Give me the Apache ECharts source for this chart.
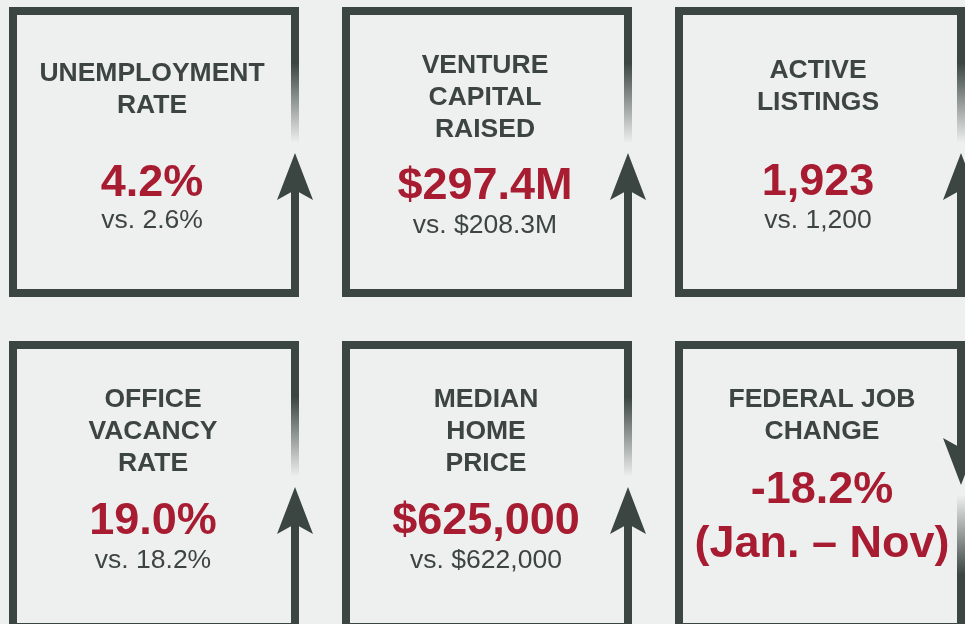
<!DOCTYPE html>
<html>
<head>
<meta charset="utf-8">
<script src="https://cdn.jsdelivr.net/npm/echarts@6/dist/echarts.min.js"></script>
<style>
  html, body { margin: 0; padding: 0; background: #eef0ef; }
  #chart-container { width: 965px; height: 624px; }
</style>
</head>
<body>
<div id="chart-container"></div>
<script>
// KPI data
const titles = [
  ['UNEMPLOYMENT', 'RATE'],
  ['VENTURE', 'CAPITAL', 'RAISED'],
  ['ACTIVE', 'LISTINGS'],
  ['OFFICE', 'VACANCY', 'RATE'],
  ['MEDIAN', 'HOME', 'PRICE'],
  ['FEDERAL JOB', 'CHANGE'],
];
const currentValues = ['4.2%', '$297.4M', '1,923', '19.0%', '$625,000', '-18.2%'];
const compareLabels = ['vs. 2.6%', 'vs. $208.3M', 'vs. 1,200', 'vs. 18.2%', 'vs. $622,000', '(Jan. – Nov)'];
const compareIsPeriod = [false, false, false, false, false, true];
const directions = ['up', 'up', 'up', 'up', 'up', 'down'];

// layout: [text centre x, first title line, value line, compare line] from the card corner
const textRows = [
  [143, 67, 177, 214],
  [143, 59, 180, 219],
  [143, 64, 176, 214],
  [144, 59, 181, 220],
  [144, 59, 181, 220],
  [147, 59, 150, 204],
];

const DARK = '#3b4541';
const RED = '#a81c32';
const TEXT = '#3d4542';
const FONT = '"Liberation Sans", Arial, sans-serif';
const CARD = 290;
const BORDER = 8;

const dom = document.getElementById('chart-container');
const myChart = echarts.init(dom, null, { renderer: 'canvas' });

const rect = (x, y, width, height, fill) => ({
  type: 'rect',
  shape: { x, y, width, height },
  style: { fill },
});

const fade = (solidOnTop) => ({
  type: 'linear', x: 0, y: 0, x2: 0, y2: 1,
  colorStops: solidOnTop
    ? [{ offset: 0, color: DARK }, { offset: 1, color: 'rgba(59,69,65,0)' }]
    : [{ offset: 0, color: 'rgba(59,69,65,0)' }, { offset: 1, color: DARK }],
});

const label = (text, x, y, size, weight, fill) => ({
  type: 'text',
  style: {
    text, x, y, fill,
    font: `${weight} ${size}px ${FONT}`,
    align: 'center',
    verticalAlign: 'middle',
  },
});

const renderCard = (params, api) => {
  const i = params.dataIndex;
  const x0 = 9 + (i % 3) * 333;
  const y0 = 7 + Math.floor(i / 3) * 334;
  const y1 = y0 + CARD;
  const rx = x0 + CARD - BORDER;
  const ax = x0 + CARD - BORDER / 2;
  const rows = textRows[i];
  const mid = x0 + rows[0];

  const children = [
    rect(x0, y0, CARD, BORDER, DARK),
    rect(x0, y0, BORDER, CARD, DARK),
    rect(x0, y1 - BORDER, CARD, BORDER, DARK),
  ];

  if (directions[i] === 'up') {
    children.push(rect(rx, y0, BORDER, 56, DARK));
    children.push(rect(rx, y0 + 56, BORDER, 80, fade(true)));
    children.push(rect(rx, y0 + 183, BORDER, CARD - 183, DARK));
    children.push({
      type: 'polygon',
      shape: { points: [[ax, y0 + 146], [ax + 18, y0 + 193], [ax, y0 + 183], [ax - 18, y0 + 193]] },
      style: { fill: DARK },
    });
  } else {
    children.push(rect(rx, y0, BORDER, CARD - 183, DARK));
    children.push(rect(rx, y1 - 136, BORDER, 80, fade(false)));
    children.push(rect(rx, y1 - 56, BORDER, 56, DARK));
    children.push({
      type: 'polygon',
      shape: { points: [[ax, y1 - 146], [ax + 18, y1 - 193], [ax, y1 - 183], [ax - 18, y1 - 193]] },
      style: { fill: DARK },
    });
  }

  titles[i].forEach((line, k) => {
    children.push(label(line, mid, y0 + rows[1] + k * 32, 26.5, 'bold', TEXT));
  });
  children.push(label(currentValues[i], mid, y0 + rows[2], 45, 'bold', RED));
  if (compareIsPeriod[i]) {
    children.push(label(compareLabels[i], mid, y0 + rows[3], 45, 'bold', RED));
  } else {
    children.push(label(compareLabels[i], mid, y0 + rows[3], 26.5, 'normal', TEXT));
  }

  return { type: 'group', children };
};

const option = {
  backgroundColor: '#eef0ef',
  animation: false,
  series: [
    {
      type: 'custom',
      coordinateSystem: 'none',
      renderItem: renderCard,
      data: currentValues.map((v, i) => i),
    },
  ],
};

myChart.setOption(option);
window.addEventListener('resize', myChart.resize);
</script>
</body>
</html>
